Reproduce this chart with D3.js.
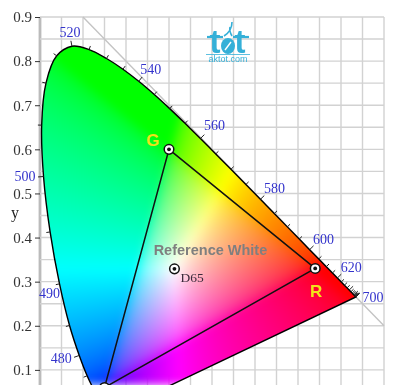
<!DOCTYPE html>
<html>
<head>
<meta charset="utf-8">
<script src="https://cdn.jsdelivr.net/npm/d3@7"></script>
<style>
  html, body { margin: 0; padding: 0; background: #fff; }
  #chart { position: relative; width: 407px; height: 385px; overflow: hidden; filter: blur(0.4px); }
  canvas, svg { position: absolute; left: 0; top: 0; }
</style>
</head>
<body>
<div id="chart"></div>
<script>
// CIE 1931 spectral locus, every 5 nm
const wavelengths = [380, 385, 390, 395, 400, 405, 410, 415, 420, 425, 430, 435, 440, 445, 450, 455, 460, 465, 470, 475, 480, 485, 490, 495, 500, 505, 510, 515, 520, 525, 530, 535, 540, 545, 550, 555, 560, 565, 570, 575, 580, 585, 590, 595, 600, 605, 610, 615, 620, 625, 630, 635, 640, 645, 650, 655, 660, 665, 670, 675, 680, 685, 690, 695, 700];
const locusX = [.1741, .1740, .1738, .1736, .1733, .1730, .1726, .1721, .1714, .1703, .1689, .1669, .1644, .1611, .1566, .1510, .1440, .1355, .1241, .1096, .0913, .0687, .0454, .0235, .0082, .0039, .0139, .0389, .0743, .1142, .1547, .1929, .2296, .2658, .3016, .3373, .3731, .4087, .4441, .4788, .5125, .5448, .5752, .6029, .6270, .6482, .6658, .6801, .6915, .7006, .7079, .7140, .7190, .7230, .7260, .7283, .7300, .7311, .7320, .7327, .7334, .7340, .7344, .7346, .7347];
const locusY = [.0050, .0050, .0049, .0049, .0048, .0048, .0048, .0048, .0051, .0058, .0069, .0086, .0109, .0138, .0177, .0227, .0297, .0399, .0578, .0868, .1327, .2007, .2950, .4127, .5384, .6548, .7502, .8120, .8338, .8262, .8059, .7816, .7543, .7243, .6923, .6589, .6245, .5896, .5547, .5202, .4866, .4544, .4242, .3965, .3725, .3514, .3340, .3197, .3083, .2993, .2920, .2859, .2809, .2770, .2740, .2717, .2700, .2689, .2680, .2673, .2666, .2660, .2656, .2654, .2653];

const labelledWavelengths = [480, 490, 500, 520, 540, 560, 580, 600, 620, 700];
const yTicks = [0.1, 0.2, 0.3, 0.4, 0.5, 0.6, 0.7, 0.8, 0.9];
const gridX = d3.range(0, 17).map(i => i * 0.05);
const gridY = d3.range(0, 19).map(i => i * 0.05);

const primaryNames = ['R', 'G', 'B'];
const primaryX = [0.64, 0.30, 0.15];
const primaryY = [0.33, 0.60, 0.06];
const whiteX = 0.3127;
const whiteY = 0.3290;

const width = 407, height = 385;

const x = d3.scaleLinear().domain([0, 0.8]).range([40, 384]);
const y = d3.scaleLinear().domain([0, 0.9]).range([414, 17]);

const locus = wavelengths.map((w, i) => ({ w, x: locusX[i], y: locusY[i] }));

const gridSvg = d3.select('#chart').append('svg')
  .attr('width', width)
  .attr('height', height);
const canvas = d3.select('#chart').append('canvas')
  .attr('width', width)
  .attr('height', height)
  .node();
const svg = d3.select('#chart').append('svg')
  .attr('width', width)
  .attr('height', height);

// Grid
gridSvg.selectAll('line.gx')
  .data(gridX)
  .enter()
  .append('line')
  .attr('x1', d => x(d))
  .attr('x2', d => x(d))
  .attr('y1', y(0.9))
  .attr('y2', height)
  .attr('stroke', d => d === 0 ? '#bbb' : '#d2d2d2')
  .attr('stroke-width', d => d === 0 ? 2.8 : 1.4);

gridSvg.selectAll('line.gy')
  .data(gridY)
  .enter()
  .append('line')
  .attr('x1', x(0))
  .attr('x2', x(0.8))
  .attr('y1', d => y(d))
  .attr('y2', d => y(d))
  .attr('stroke', '#d2d2d2')
  .attr('stroke-width', 1.4);

// x + y = 1 diagonal
gridSvg.append('line')
  .attr('x1', x(0.1))
  .attr('y1', y(0.9))
  .attr('x2', x(0.8))
  .attr('y2', y(0.2))
  .attr('stroke', '#c4c4c4')
  .attr('stroke-width', 1.4);

// Colour fill
function gamma(c) {
  return c <= 0.0031308 ? 12.92 * c : 1.055 * Math.pow(c, 1 / 2.4) - 0.055;
}

function chromaToRgb(cx, cy) {
  const X = cx / cy, Y = 1, Z = (1 - cx - cy) / cy;
  let r = 3.2406 * X - 1.5372 * Y - 0.4986 * Z;
  let g = -0.9689 * X + 1.8758 * Y + 0.0415 * Z;
  let b = 0.0557 * X - 0.2040 * Y + 1.0570 * Z;
  r = Math.max(r, 0); g = Math.max(g, 0); b = Math.max(b, 0);
  const m = Math.max(r, g, b);
  return [gamma(r / m), gamma(g / m), gamma(b / m)];
}

// Paint every pixel first, soften the clamp ridges, then cut to the locus
const buffer = document.createElement('canvas');
buffer.width = width;
buffer.height = height;
const bufferCtx = buffer.getContext('2d');
const image = bufferCtx.createImageData(width, height);
for (let py = 0; py < height; py++) {
  for (let px = 0; px < width; px++) {
    const cx = Math.max(x.invert(px + 0.5), 0.001);
    const cy = Math.max(y.invert(py + 0.5), 0.005);
    const rgb = chromaToRgb(cx, cy);
    const k = (py * width + px) * 4;
    image.data[k] = rgb[0] * 255;
    image.data[k + 1] = rgb[1] * 255;
    image.data[k + 2] = rgb[2] * 255;
    image.data[k + 3] = 255;
  }
}
bufferCtx.putImageData(image, 0, 0);

const line = d3.line()
  .x(d => x(d.x))
  .y(d => y(d.y));
const locusLine = d3.line()
  .x(d => x(d.x))
  .y(d => y(d.y))
  .curve(d3.curveCatmullRom);

const ctx = canvas.getContext('2d');
ctx.beginPath();
locusLine.context(ctx)(locus);
ctx.closePath();
ctx.clip();
ctx.filter = 'blur(4px)';
ctx.drawImage(buffer, 0, 0);
ctx.filter = 'none';

// Y axis
const yAxis = d3.axisLeft(y)
  .tickValues(yTicks)
  .tickSize(5)
  .tickPadding(3)
  .tickFormat(d3.format('.1f'));

const axisG = svg.append('g')
  .attr('transform', `translate(${x(0)},0)`)
  .call(yAxis);
axisG.select('.domain').remove();
axisG.selectAll('line').attr('stroke', '#333');
axisG.selectAll('text')
  .attr('fill', '#333')
  .style('font-family', '"Liberation Serif", serif')
  .style('font-size', '15px');

svg.append('text')
  .attr('x', 15)
  .attr('y', 218)
  .attr('text-anchor', 'middle')
  .attr('fill', '#222')
  .style('font-family', '"Liberation Serif", serif')
  .style('font-size', '16px')
  .text('y');

// Outline of the locus
locusLine.context(null);
svg.append('path')
  .attr('d', locusLine(locus) + 'Z')
  .attr('fill', 'none')
  .attr('stroke', '#000')
  .attr('stroke-width', 1.4);

// Ticks point outwards, normal to the curve
function tickNormal(i) {
  const a = locus[Math.max(i - 1, 0)], b = locus[Math.min(i + 1, locus.length - 1)];
  const dx = x(b.x) - x(a.x), dy = y(b.y) - y(a.y);
  const len = Math.hypot(dx, dy);
  return [dy / len, -dx / len];
}

svg.selectAll('line.wl')
  .data(locus.filter(d => d.w >= 470))
  .enter()
  .append('line')
  .attr('x1', d => x(d.x))
  .attr('y1', d => y(d.y))
  .attr('x2', d => x(d.x) + tickNormal(locus.indexOf(d))[0] * (d.w % 20 === 0 ? 5.5 : 3.8))
  .attr('y2', d => y(d.y) + tickNormal(locus.indexOf(d))[1] * (d.w % 20 === 0 ? 5.5 : 3.8))
  .attr('stroke', '#222')
  .attr('stroke-width', 1);

// Wavelength labels, offset from their point on the curve
const labelOffset = {
  480: [-18, 3], 490: [-10, 9], 500: [-18.5, 0], 520: [-2, -14], 540: [12, -12],
  560: [14, -13], 580: [14, -11], 600: [14, -11], 620: [14, -11], 700: [17, 0]
};

svg.selectAll('text.wl')
  .data(locus.filter(d => labelledWavelengths.includes(d.w)))
  .enter()
  .append('text')
  .attr('x', d => x(d.x) + labelOffset[d.w][0])
  .attr('y', d => y(d.y) + labelOffset[d.w][1])
  .attr('dy', '0.35em')
  .attr('text-anchor', 'middle')
  .attr('fill', '#3434cc')
  .style('font-family', '"Liberation Serif", serif')
  .style('font-size', '14px')
  .text(d => d.w);

// Gamut triangle
const gamut = primaryNames.map((n, i) => ({ n, x: primaryX[i], y: primaryY[i] }));
svg.append('path')
  .attr('d', line(gamut) + 'Z')
  .attr('fill', 'none')
  .attr('stroke', '#111')
  .attr('stroke-width', 1.5);

function marker(px, py) {
  svg.append('circle')
    .attr('cx', px).attr('cy', py).attr('r', 4.8)
    .attr('fill', '#fff').attr('stroke', '#111').attr('stroke-width', 1.5);
  svg.append('circle')
    .attr('cx', px).attr('cy', py).attr('r', 1.9)
    .attr('fill', '#111');
}
gamut.forEach(d => marker(x(d.x), y(d.y)));
marker(x(whiteX), y(whiteY));

// Primary names
const primaryLabelOffset = { R: [1, 29], G: [-16, -3] };
svg.selectAll('text.primary')
  .data(gamut.filter(d => d.n !== 'B'))
  .enter()
  .append('text')
  .attr('x', d => x(d.x) + primaryLabelOffset[d.n][0])
  .attr('y', d => y(d.y) + primaryLabelOffset[d.n][1])
  .attr('text-anchor', 'middle')
  .attr('fill', '#f2e21a')
  .style('font-family', '"Liberation Sans", sans-serif')
  .style('font-weight', 'bold')
  .style('font-size', '17px')
  .text(d => d.n);

svg.append('text')
  .attr('x', x(whiteX) + 36)
  .attr('y', y(whiteY) - 14)
  .attr('text-anchor', 'middle')
  .attr('fill', '#7f7f7f')
  .style('font-family', '"Liberation Sans", sans-serif')
  .style('font-weight', 'bold')
  .style('font-size', '14.5px')
  .text('Reference White');

svg.append('text')
  .attr('x', x(whiteX) + 6)
  .attr('y', y(whiteY) + 13)
  .attr('fill', '#3a2a3a')
  .style('font-family', '"Liberation Serif", serif')
  .style('font-size', '13.5px')
  .text('D65');

// Watermark
const markColor = '#35b0d8';
const mark = svg.append('g').attr('fill', markColor);
mark.selectAll('text.logo')
  .data([215, 240])
  .enter()
  .append('text')
  .attr('x', d => d)
  .attr('y', 53)
  .attr('text-anchor', 'middle')
  .style('font-family', '"Liberation Sans", sans-serif')
  .style('font-weight', 'bold')
  .style('font-size', '33px')
  .text('t');
mark.selectAll('line.bar')
  .data([215, 241])
  .enter()
  .append('line')
  .attr('x1', d => d - 8)
  .attr('x2', d => d + 8)
  .attr('y1', 37)
  .attr('y2', 37)
  .attr('stroke', markColor)
  .attr('stroke-width', 2.2);
mark.append('ellipse')
  .attr('cx', 228).attr('cy', 46).attr('rx', 7).attr('ry', 8);
mark.append('path')
  .attr('d', 'M224 36 Q232 31 232 22 M232 36 Q229 31 230 27')
  .attr('fill', 'none')
  .attr('stroke', markColor)
  .attr('stroke-width', 1.6);
mark.append('line')
  .attr('x1', 225).attr('x2', 231)
  .attr('y1', 50).attr('y2', 42)
  .attr('stroke', '#fff').attr('stroke-width', 1.4);
mark.append('line')
  .attr('x1', 206).attr('x2', 250)
  .attr('y1', 54.5).attr('y2', 54.5)
  .attr('stroke', markColor).attr('stroke-width', 0.8);
mark.append('text')
  .attr('x', 228)
  .attr('y', 62)
  .attr('text-anchor', 'middle')
  .style('font-family', '"Liberation Sans", sans-serif')
  .style('font-size', '9px')
  .text('aktot.com');
</script>
</body>
</html>
